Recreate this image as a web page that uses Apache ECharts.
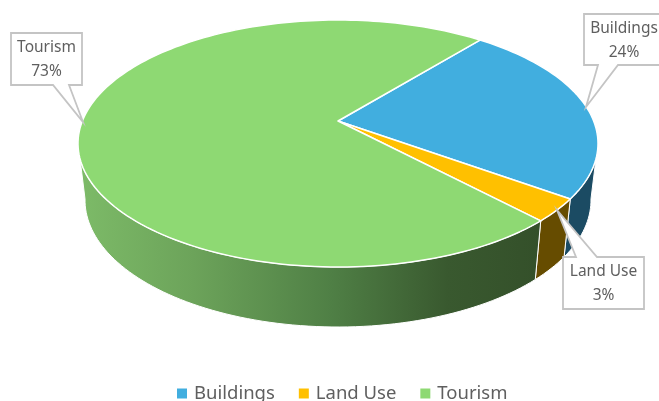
<!DOCTYPE html>
<html>
<head>
<meta charset="utf-8">
<style>html,body{margin:0;padding:0;background:#fff}#chart{width:659px;height:401px}</style>
<script src="https://cdn.jsdelivr.net/npm/echarts@6/dist/echarts.min.js"></script>
</head>
<body>
<div id="chart"></div>
<script>
// Emissions share by sector
const categories = ['Buildings', 'Land Use', 'Tourism'];
const shares = [24, 3, 73];
const percentLabels = ['24%', '3%', '73%'];

const topColors = ['#41AEDF', '#FFC000', '#8ED973'];

// Tilted disc: a circle seen in perspective, upper and lower plate
const topPlate = { cx: 338, cy: 143.5, rx: 260, ry: 123.5 };
const lowPlate = { cx: 338, cy: 200, rx: 253, ry: 127 };
const tilt = -0.182;
const firstAngle = 39.3;
const frontFrom = 100, frontTo = 260;

// Callout boxes: [x, y, w, h], pointer base on the box edge, pointer tip
const callouts = [
  { box: [584, 14, 80, 51], base: [[598, 65], [618, 65]], tip: [586, 107] },
  { box: [563, 257, 81, 52], base: [[576, 257], [597, 257]], tip: [557, 210] },
  { box: [11, 33, 71, 52], base: [[53, 85], [69, 85]], tip: [83, 122] }
];

const sideFills = [
  '#1B4B63',
  '#664C00',
  {
    type: 'linear', x: 78, y: 0, x2: 540, y2: 0, global: true,
    colorStops: [
      { offset: 0, color: '#7DBB68' },
      { offset: 0.25, color: '#6CA35A' },
      { offset: 0.55, color: '#4F7F45' },
      { offset: 0.8, color: '#39592F' },
      { offset: 1, color: '#34502A' }
    ]
  }
];

// Clockwise angle from 12 o'clock to a point on a plate's rim
function rimPoint(plate, deg) {
  const a = deg * Math.PI / 180;
  const u = Math.sin(a), v = -Math.cos(a);
  const d = 1 + tilt * v;
  const k = Math.sqrt(1 - tilt * tilt);
  return [plate.cx + plate.rx * u * k / d, plate.cy + plate.ry * (v + tilt) / d];
}

function rimArc(plate, from, to) {
  const pts = [];
  const n = Math.max(2, Math.ceil((to - from) / 1.5));
  for (let i = 0; i <= n; i++) pts.push(rimPoint(plate, from + (to - from) * i / n));
  return pts;
}

// Hub of the disc as it lands in the picture
const hub = [topPlate.cx, topPlate.cy + topPlate.ry * tilt];

const total = shares.reduce((s, v) => s + v, 0);
let running = 0;
const spans = shares.map(v => {
  const from = firstAngle + running / total * 360;
  running += v;
  return [from, firstAngle + running / total * 360];
});

function calloutChildren(i) {
  const c = callouts[i];
  const [x, y, w, h] = c.box;
  const [b1, b2] = c.base;
  const onTop = b1[1] === y;
  const outline = onTop
    ? [[x, y], [b1[0], y], c.tip, [b2[0], y], [x + w, y], [x + w, y + h], [x, y + h]]
    : [[x, y], [x + w, y], [x + w, y + h], [b2[0], y + h], c.tip, [b1[0], y + h], [x, y + h]];
  const textX = x + (i === 0 ? 40 : w / 2);
  const font = '15.5px "Noto Sans"';
  return [
    {
      type: 'polygon', z2: 10, shape: { points: outline },
      style: { fill: '#fff', stroke: '#C4C4C4', lineWidth: 1.8 }
    },
    {
      type: 'text', z2: 11,
      style: { x: textX, y: y + 15, text: categories[i], fill: '#5F5F5F', font, align: 'center', verticalAlign: 'middle' }
    },
    {
      type: 'text', z2: 11,
      style: { x: textX, y: y + 38.5, text: percentLabels[i], fill: '#5F5F5F', font, align: 'center', verticalAlign: 'middle' }
    }
  ];
}

function sliceRenderer(i) {
  return function () {
    const [from, to] = spans[i];
    const children = [];
    // Front wall: only the part of the span that faces the viewer
    const wallFrom = Math.max(from, frontFrom);
    const wallTo = Math.min(to, frontTo);
    if (wallTo > wallFrom) {
      children.push({
        type: 'polygon', z2: 1,
        shape: { points: rimArc(topPlate, wallFrom, wallTo).concat(rimArc(lowPlate, wallFrom, wallTo).reverse()) },
        style: { fill: sideFills[i], stroke: '#fff', lineWidth: 1 }
      });
    }
    children.push({
      type: 'polygon', z2: 2,
      shape: { points: [hub].concat(rimArc(topPlate, from, to)) },
      style: { fill: topColors[i], stroke: '#fff', lineWidth: 1.5, lineJoin: 'round' }
    });
    return { type: 'group', children: children.concat(calloutChildren(i)) };
  };
}

const chart = echarts.init(document.getElementById('chart'), null, { renderer: 'canvas' });
chart.setOption({
  animation: false,
  backgroundColor: '#fff',
  legend: {
    data: categories,
    left: 172, top: 379,
    icon: 'rect', itemWidth: 10, itemHeight: 10, itemGap: 24,
    textStyle: { color: '#5F5F5F', fontSize: 18.5, fontFamily: 'Noto Sans', padding: [0, 0, 0, 2] }
  },
  series: categories.map((name, i) => ({
    type: 'custom',
    name,
    coordinateSystem: 'none',
    silent: true,
    itemStyle: { color: topColors[i] },
    data: [shares[i]],
    renderItem: sliceRenderer(i)
  }))
});
</script>
</body>
</html>
